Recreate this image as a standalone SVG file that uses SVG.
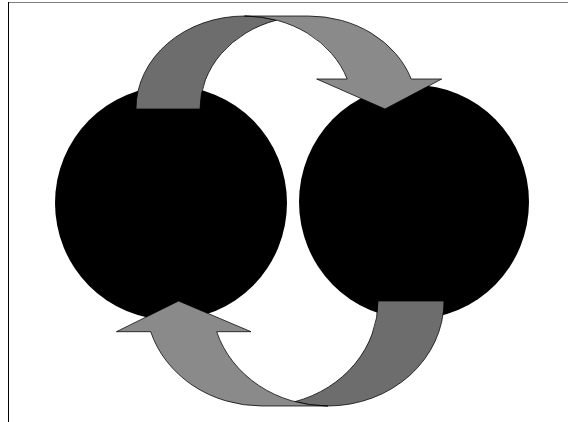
<svg xmlns="http://www.w3.org/2000/svg" width="568" height="422" viewBox="0 0 568 422">
  <style>
    .node { fill: #000000; }
    .dark { fill: #6d6d6d; stroke: #000000; stroke-width: 0.75; stroke-linejoin: miter; }
    .light { fill: #8a8a8a; stroke: #000000; stroke-width: 0.75; stroke-linejoin: miter; }
    .frame-top { stroke: #7f7f7f; stroke-width: 1; fill: none; }
    .frame-left { stroke: #000000; stroke-width: 1; fill: none; }
  </style>
  <rect x="0" y="0" width="568" height="422" fill="#ffffff"/>
  <g id="frame">
    <line class="frame-top" x1="8.5" y1="2.5" x2="568" y2="2.5"/>
    <line class="frame-left" x1="8.5" y1="2" x2="8.5" y2="422"/>
  </g>
  <g id="node-left">
    <ellipse class="node" cx="171" cy="203" rx="116" ry="117"/>
  </g>
  <g id="node-right">
    <ellipse class="node" cx="414" cy="202" rx="115" ry="117"/>
  </g>
  <g id="connectors">
    <g id="arrow-top">
      <path class="dark" d="M136,109 A108.5,93 0 0 1 244.5,16 A108.5,93 0 0 1 276.5,20.14 A108.5,93 0 0 0 200,109 Z"/>
      <path class="light" d="M316.7,79 L385,109 L441.7,79 L411.2,79 A108.5,93 0 0 0 308.5,16 L244.5,16 A108.5,93 0 0 1 347.2,79 Z"/>
    </g>
    <g id="arrow-bottom">
      <path class="dark" d="M444,301 A116.2,105 0 0 1 327.8,406 A116.2,105 0 0 1 294.8,401.7 A116.2,105 0 0 0 378,301 Z"/>
      <path class="light" d="M251,331.7 L178.6,301 L116.4,331.7 L150.7,331.7 A116.2,105 0 0 0 261.8,406 L327.8,406 A116.2,105 0 0 1 216.7,331.7 Z"/>
    </g>
  </g>
</svg>
